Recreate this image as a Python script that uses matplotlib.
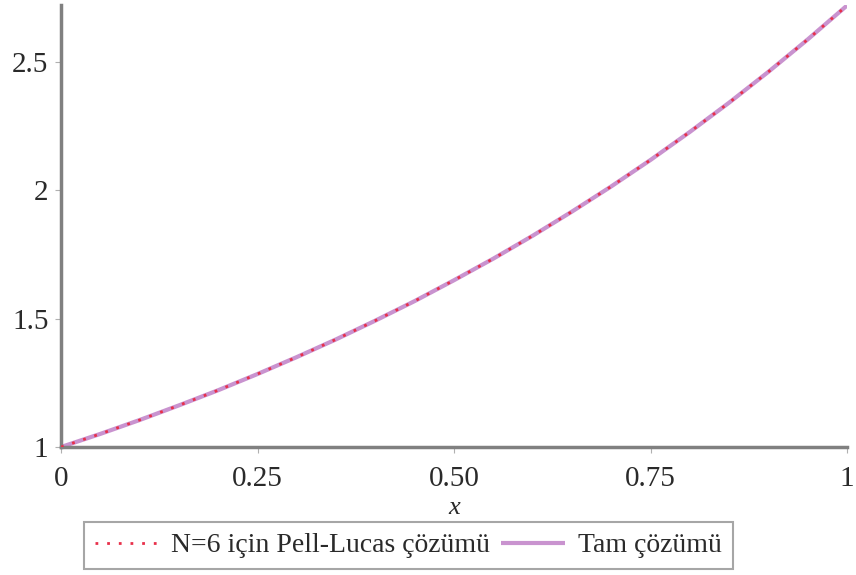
import matplotlib
matplotlib.use("Agg")
import matplotlib.pyplot as plt

x_vals = [0.0, 0.05, 0.1, 0.15, 0.2, 0.25, 0.3, 0.35, 0.4, 0.45, 0.5,
          0.55, 0.6, 0.65, 0.7, 0.75, 0.8, 0.85, 0.9, 0.95, 1.0]
pell_lucas = [1.000, 1.051, 1.105, 1.162, 1.221, 1.284, 1.350, 1.419, 1.492, 1.568, 1.649,
              1.733, 1.822, 1.916, 2.014, 2.117, 2.226, 2.340, 2.460, 2.586, 2.718]
exact = [1.000, 1.051, 1.105, 1.162, 1.221, 1.284, 1.350, 1.419, 1.492, 1.568, 1.649,
         1.733, 1.822, 1.916, 2.014, 2.117, 2.226, 2.340, 2.460, 2.586, 2.718]
x_ticks = [0, 0.25, 0.5, 0.75, 1]
x_tick_labels = ["0", "0.25", "0.50", "0.75", "1"]
y_ticks = [1, 1.5, 2, 2.5]
y_tick_labels = ["1", "1.5", "2", "2.5"]
label_pell = "N=6 için Pell-Lucas çözümü"
label_exact = "Tam çözümü"

plt.rcParams['font.family'] = ['Liberation Serif', 'DejaVu Serif']

fig = plt.figure(figsize=(8.56, 5.75), dpi=100)
ax = fig.add_axes([0.0713, 0.2226, 0.9182, 0.7687])

l2, = ax.plot(x_vals, exact, color='#c993cf', lw=3.0, solid_capstyle='butt', zorder=2)
l1, = ax.plot(x_vals, pell_lucas, color='#e8304a', lw=2.0, linestyle=(0, (1, 3.2)), zorder=3)

ax.set_xlim(0, 1)
ax.set_ylim(1, 2.72)
ax.set_xticks(x_ticks)
ax.set_xticklabels(x_tick_labels)
ax.set_yticks(y_ticks)
ax.set_yticklabels(y_tick_labels)

for s in ['top', 'right']:
    ax.spines[s].set_visible(False)
for s in ['left', 'bottom']:
    ax.spines[s].set_color('#808080')
    ax.spines[s].set_linewidth(2.5)

ax.tick_params(axis='both', direction='out', length=4, width=0.8, color='#b0b0b0',
               labelsize=21, labelcolor='#2a2a2a')
ax.tick_params(axis='x', pad=10)
ax.tick_params(axis='y', pad=5)

ax.set_xlabel('x', fontsize=19, fontstyle='italic', labelpad=3, color='#2a2a2a')

leg = fig.legend([l1, l2], [label_pell, label_exact], loc='center',
                 bbox_to_anchor=(0.477, 0.0513), ncol=2, frameon=True, fancybox=False,
                 fontsize=20, handlelength=2.3, handletextpad=0.45, columnspacing=0.4,
                 borderpad=0.4, borderaxespad=0, labelcolor='#2a2a2a')
leg.get_frame().set_edgecolor('#909090')
leg.get_frame().set_linewidth(1.5)

fig.savefig('out.png', dpi=100)
